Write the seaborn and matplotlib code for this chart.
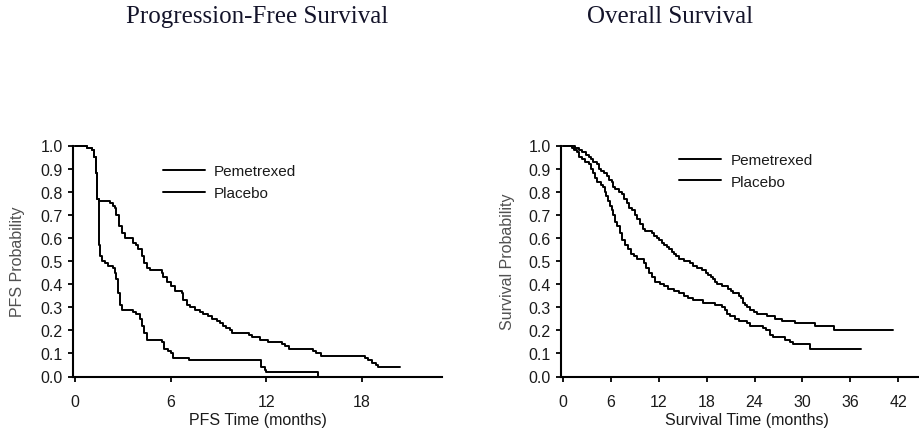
import matplotlib
matplotlib.use("Agg")
import matplotlib.pyplot as plt
import seaborn as sns
import pandas as pd

# ---------------- data ----------------
pfs_time_pem = [0, 0.75, 1.05, 1.2, 1.3, 1.4, 1.5, 2.2, 2.4, 2.5, 2.6, 2.76, 2.93, 3.14, 3.66, 3.85,
                3.97, 4.18, 4.33, 4.5, 4.7, 5.44, 5.54, 5.75, 6.0, 6.28, 6.7, 6.8, 7.0, 7.2, 7.5, 7.85,
                8.05, 8.37, 8.58, 8.9, 9.1, 9.3, 9.5, 9.7, 9.83, 10.9, 11.1, 11.6, 12.1, 13.0, 13.2,
                13.4, 14.96, 15.1, 15.4, 18.2, 18.4, 18.6, 18.9, 19.0, 20.4]
pfs_surv_pem = [1.0, 0.99, 0.98, 0.95, 0.88, 0.77, 0.76, 0.75, 0.74, 0.73, 0.70, 0.65, 0.62, 0.60,
                0.58, 0.57, 0.55, 0.52, 0.49, 0.47, 0.46, 0.45, 0.43, 0.41, 0.39, 0.37, 0.36, 0.33,
                0.31, 0.30, 0.29, 0.28, 0.27, 0.26, 0.25, 0.24, 0.23, 0.22, 0.21, 0.20, 0.19, 0.18,
                0.17, 0.16, 0.15, 0.14, 0.13, 0.12, 0.11, 0.10, 0.09, 0.08, 0.07, 0.06, 0.05, 0.04, 0.04]

pfs_time_pla = [0, 0.75, 1.05, 1.2, 1.3, 1.4, 1.48, 1.55, 1.67, 1.88, 2.1, 2.4, 2.5, 2.6, 2.72, 2.82,
                2.93, 3.66, 3.85, 4.08, 4.2, 4.33, 4.5, 5.44, 5.58, 5.86, 6.0, 6.17, 7.17, 11.65, 11.9,
                12.0, 15.27]
pfs_surv_pla = [1.0, 0.99, 0.98, 0.95, 0.88, 0.77, 0.57, 0.52, 0.50, 0.49, 0.48, 0.47, 0.45, 0.42,
                0.36, 0.31, 0.29, 0.28, 0.27, 0.25, 0.22, 0.19, 0.16, 0.15, 0.12, 0.11, 0.10, 0.08,
                0.07, 0.04, 0.03, 0.02, 0.0]

os_time_pem = [0, 1.5, 2.0, 2.4, 2.9, 3.2, 3.5, 3.8, 4.25, 4.5, 4.7, 5.1, 5.5, 5.8, 6.1, 6.3, 6.5,
               7.0, 7.4, 7.7, 8.0, 8.3, 8.6, 9.05, 9.3, 9.7, 10.0, 10.3, 11.1, 11.4, 11.75, 12.05,
               12.4, 12.7, 13.0, 13.3, 13.6, 13.85, 14.2, 14.5, 15.1, 15.9, 16.3, 16.85, 17.4, 17.9,
               18.2, 18.5, 18.8, 19.05, 19.35, 19.9, 20.7, 21.0, 21.35, 22.0, 22.3, 22.6, 22.8, 23.1,
               23.4, 23.9, 24.3, 25.5, 26.6, 27.4, 29.1, 31.6, 33.9, 41.4]
os_surv_pem = [1.0, 0.99, 0.98, 0.97, 0.96, 0.95, 0.94, 0.93, 0.92, 0.90, 0.89, 0.88, 0.87, 0.85,
               0.84, 0.82, 0.81, 0.80, 0.79, 0.77, 0.75, 0.73, 0.72, 0.70, 0.68, 0.66, 0.64, 0.63,
               0.62, 0.61, 0.60, 0.59, 0.58, 0.57, 0.56, 0.55, 0.54, 0.53, 0.52, 0.51, 0.50, 0.49,
               0.48, 0.47, 0.46, 0.45, 0.44, 0.43, 0.42, 0.41, 0.40, 0.39, 0.38, 0.37, 0.36, 0.35,
               0.34, 0.32, 0.31, 0.30, 0.29, 0.28, 0.27, 0.26, 0.25, 0.24, 0.23, 0.22, 0.20, 0.20]

os_time_pla = [0, 1.1, 1.4, 1.75, 2.0, 2.4, 2.8, 3.2, 3.5, 3.8, 4.05, 4.3, 4.7, 5.0, 5.2, 5.4, 5.6,
               5.9, 6.1, 6.3, 6.5, 6.75, 7.1, 7.4, 7.8, 8.2, 8.5, 8.85, 9.25, 10.1, 10.4, 10.8, 11.1,
               11.55, 12.2, 12.7, 13.2, 13.85, 14.5, 15.1, 15.7, 16.35, 17.6, 19.05, 19.9, 20.3, 20.5,
               20.9, 21.55, 22.0, 23.0, 23.4, 25.1, 25.4, 25.9, 26.35, 27.8, 28.4, 28.85, 30.9, 37.4]
os_surv_pla = [1.0, 0.99, 0.98, 0.97, 0.95, 0.94, 0.93, 0.92, 0.90, 0.88, 0.86, 0.84, 0.83, 0.82,
               0.80, 0.78, 0.76, 0.74, 0.72, 0.70, 0.67, 0.65, 0.62, 0.59, 0.57, 0.55, 0.53, 0.52,
               0.51, 0.49, 0.47, 0.45, 0.43, 0.41, 0.40, 0.39, 0.38, 0.37, 0.36, 0.35, 0.34, 0.33,
               0.32, 0.31, 0.30, 0.29, 0.27, 0.26, 0.25, 0.24, 0.23, 0.22, 0.21, 0.20, 0.18, 0.17,
               0.16, 0.15, 0.14, 0.12, 0.12]

series_labels = ["Pemetrexed", "Placebo"]
titles = ["Progression-Free Survival", "Overall Survival"]
xlabels = ["PFS Time (months)", "Survival Time (months)"]
ylabels = ["PFS Probability", "Survival Probability"]
pfs_xticks = [0, 6, 12, 18]
os_xticks = [0, 6, 12, 18, 24, 30, 36, 42]
yticks = [0.0, 0.1, 0.2, 0.3, 0.4, 0.5, 0.6, 0.7, 0.8, 0.9, 1.0]

# ---------------- style ----------------
sns.set_style("ticks")
plt.rcParams["font.family"] = ["Liberation Sans", "DejaVu Sans"]

W, H = 920, 435
fig = plt.figure(figsize=(W / 100, H / 100), dpi=100)

def px_axes(left, right, top, bottom):
    return fig.add_axes([left / W, 1 - bottom / H, (right - left) / W, (bottom - top) / H])

ax1 = px_axes(73.5, 441.7, 146.5, 377.5)
ax2 = px_axes(561.5, 932.5, 146.5, 377.5)

def make_df(t, s, lab):
    return pd.DataFrame({"time": t, "surv": s, "arm": lab})

TXT = "#1a1a1a"

def style_axis(ax, xlim, xticks, xlabel, ylabel, ylab_x, leg_x, leg_y):
    ax.set_xlim(*xlim)
    ax.set_ylim(0, 1.0)
    ax.set_xticks(xticks)
    ax.set_yticks(yticks)
    ax.set_yticklabels([f"{v:.1f}" for v in yticks])
    sns.despine(ax=ax)
    for sp in ("left", "bottom"):
        ax.spines[sp].set_linewidth(1.5)
        ax.spines[sp].set_color("black")
    ax.tick_params(axis="both", direction="out", length=3.6, width=1.3, color="black",
                   labelsize=11.5, labelcolor=TXT)
    ax.tick_params(axis="x", pad=9)
    ax.tick_params(axis="y", pad=4)
    ax.set_xlabel(xlabel, fontsize=11.5, color=TXT)
    ax.set_ylabel(ylabel, fontsize=11.5, color="#505050")
    ax.xaxis.set_label_coords(0.5, -0.155)
    ax.yaxis.set_label_coords(ylab_x, 0.5)
    h, l = ax.get_legend_handles_labels()
    ax.legend(h, l, loc="upper left", bbox_to_anchor=(leg_x, leg_y), frameon=False,
              borderpad=0, borderaxespad=0, handlelength=2.75, handletextpad=0.6,
              labelspacing=0.5, fontsize=11, labelcolor=TXT)

for ax, (tp, sp_, tl, sl) in [
    (ax1, (pfs_time_pem, pfs_surv_pem, pfs_time_pla, pfs_surv_pla)),
    (ax2, (os_time_pem, os_surv_pem, os_time_pla, os_surv_pla)),
]:
    sns.lineplot(data=make_df(tp, sp_, series_labels[0]), x="time", y="surv", ax=ax,
                 drawstyle="steps-post", estimator=None, sort=False, color="black",
                 linewidth=1.4, label=series_labels[0], clip_on=False)
    sns.lineplot(data=make_df(tl, sl, series_labels[1]), x="time", y="surv", ax=ax,
                 drawstyle="steps-post", estimator=None, sort=False, color="black",
                 linewidth=1.4, label=series_labels[1], clip_on=False)

style_axis(ax1, (-0.09, 23.0), pfs_xticks, xlabels[0], ylabels[0], -0.132, 0.243, 0.918)
style_axis(ax2, (-0.19, 46.3), os_xticks, xlabels[1], ylabels[1], -0.125, 0.317, 0.968)

fig.text(257 / W, 1 - 22.7 / H, titles[0], ha="center", va="baseline",
         family=["Liberation Serif", "DejaVu Serif"], fontsize=18, color="#14142a")
fig.text(670 / W, 1 - 22.7 / H, titles[1], ha="center", va="baseline",
         family=["Liberation Serif", "DejaVu Serif"], fontsize=18, color="#14142a")

fig.savefig("out.png", dpi=100)
